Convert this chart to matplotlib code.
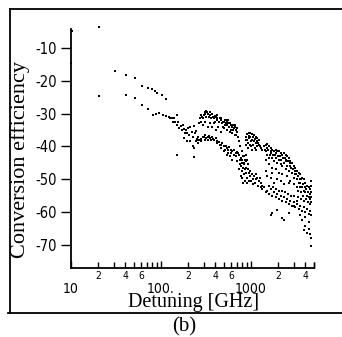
import matplotlib
matplotlib.use("Agg")
import matplotlib.pyplot as plt
from matplotlib import font_manager
from matplotlib.lines import Line2D
from matplotlib.ticker import FixedLocator, FixedFormatter
import numpy as np

# (detuning in GHz, conversion efficiency in dB)
stray_early = [(10.2, -5.0), (10.0, -14.7), (20.5, -3.6), (20.5, -24.8), (152, -42.5), (233, -43.3)]

early_upper = [(31, -17.0), (41, -18.3), (52, -19.3), (61, -21.6), (72, -22.3), (80, -22.6),
               (85, -23.0), (91, -23.6), (102, -24.3), (113, -25.6)]

early_lower = [(41, -24.4), (52, -25.3), (62, -27.3), (72, -28.6), (82, -30.4), (88, -30.0),
               (95, -29.9), (106, -30.4), (115, -30.6), (123, -30.9), (134, -31.4)]

mid_band = [(126, -31.5), (135, -32.5), (144, -32.7), (150, -33.5), (152, -30.4), (156, -32.7),
            (165, -33.9), (170, -35.0), (180, -34.7), (185, -36.0), (196, -35.9), (200, -34.5),
            (213, -34.2), (220, -35.5), (233, -33.9), (240, -36.0), (243, -35.4), (255, -37.0),
            (180, -37.5), (196, -38.5), (213, -38.5), (225, -40.0), (233, -40.5),
            (140, -31.5), (160, -34.5), (175, -33.5), (190, -35.0), (205, -36.5), (228, -37.0),
            (250, -38.0)]

hump_upper = [(264, -33.0), (270, -31.5), (276, -32.5), (288, -31.0), (300, -30.5), (310, -29.5),
              (319, -29.3), (327, -29.5), (335, -30.0), (347, -29.6), (355, -30.5), (372, -30.2),
              (380, -31.0), (388, -31.5), (395, -30.8), (405, -31.2), (415, -32.0), (423, -31.5),
              (440, -32.5), (460, -32.0), (475, -33.0), (490, -32.5), (501, -32.5), (515, -32.0),
              (523, -33.0), (540, -32.5), (546, -33.5), (560, -33.0), (575, -34.0), (594, -33.5),
              (610, -34.0), (625, -33.5), (647, -34.5), (660, -34.0), (676, -35.0), (705, -35.5),
              (720, -37.0), (738, -38.5), (760, -40.0), (790, -41.5),
              (290, -33.5), (310, -32.5), (330, -34.0), (350, -33.0), (370, -34.0), (390, -33.0),
              (410, -35.0), (430, -34.0), (460, -35.5), (500, -34.5), (540, -35.0), (580, -35.5),
              (620, -36.0), (660, -36.5),
              (282, -30.5), (295, -31.5), (305, -30.0), (315, -31.0), (340, -31.0), (362, -31.5),
              (398, -32.5), (418, -30.5), (450, -31.5), (470, -31.5), (485, -34.0), (510, -33.5),
              (530, -32.0), (555, -32.0), (585, -33.0), (600, -35.0), (635, -35.0), (670, -33.5),
              (690, -36.5), (700, -34.5)]

hump_lower = [(243, -38.5), (255, -39.0), (265, -38.0), (276, -37.8), (290, -37.2), (300, -37.0),
              (312, -36.5), (320, -37.5), (330, -37.0), (340, -36.8), (355, -37.5), (372, -37.0),
              (388, -38.0), (405, -37.5), (423, -38.5), (440, -38.8), (460, -39.5), (480, -39.0),
              (501, -40.0), (523, -39.8), (546, -40.5), (570, -40.2), (594, -41.0), (620, -41.5),
              (647, -41.2), (676, -42.0), (705, -41.8), (738, -42.5), (770, -43.5), (801, -44.0),
              (836, -43.0), (836, -45.0), (873, -44.5), (815, -42.8), (500, -41.5), (540, -42.5),
              (580, -43.0), (620, -44.0), (560, -42.0), (705, -44.5),
              (250, -37.8), (282, -38.5), (305, -38.0), (335, -38.0), (362, -38.2), (380, -37.8),
              (415, -39.0), (450, -39.5), (470, -40.5), (520, -41.0), (555, -41.0), (600, -42.0),
              (650, -42.5), (690, -43.0), (720, -42.0), (750, -44.0), (790, -45.0), (850, -44.0)]

cluster_1k_upper = [(873, -37.0), (910, -36.3), (950, -36.0), (990, -35.8), (1035, -36.2), (1080, -36.5),
                    (1127, -37.0), (1175, -37.5), (1227, -38.0), (873, -39.5), (910, -38.0), (950, -37.5),
                    (990, -37.2), (1035, -38.0), (1080, -38.5), (1127, -39.0), (1175, -40.0), (1227, -39.5),
                    (930, -39.0), (970, -39.5), (1010, -40.0), (1060, -39.5), (1100, -40.5), (1150, -41.0),
                    (1280, -40.5), (1336, -41.0), (873, -42.5), (900, -44.0), (920, -45.5), (873, -46.5),
                    (836, -45.5), (850, -47.0),
                    (890, -38.0), (960, -36.8), (1000, -38.5), (1050, -37.0), (1110, -37.8), (1160, -38.5),
                    (1200, -39.0), (1250, -39.8), (940, -40.5), (1020, -41.0)]

cluster_1k_lower = [(738, -47.0), (770, -46.0), (801, -47.5), (836, -48.5), (873, -48.0), (910, -49.5),
                    (950, -48.0), (990, -47.5), (1035, -48.5), (1080, -49.0), (1127, -50.0), (1175, -49.5),
                    (1227, -50.5), (1280, -51.0), (801, -49.5), (850, -50.5), (900, -51.0), (950, -50.5),
                    (1000, -50.5), (1060, -51.5), (1120, -51.0), (1200, -52.0), (1336, -52.0), (1394, -52.5),
                    (770, -49.0), (873, -46.5),
                    (760, -45.5), (820, -46.5), (860, -47.0), (930, -47.0), (980, -49.0), (1050, -50.0),
                    (1150, -48.5), (1250, -49.5), (1300, -52.5), (820, -51.0)]

tail_upper = [(1394, -40.0), (1455, -39.5), (1518, -39.3), (1585, -39.8), (1654, -40.5), (1726, -41.0),
              (1801, -41.5), (1879, -41.0), (1961, -41.3), (2046, -41.5), (2135, -42.0), (2228, -42.5),
              (1455, -41.5), (1518, -42.5), (1585, -43.5), (1654, -42.0), (1726, -43.5), (1801, -44.5),
              (1879, -43.5), (1961, -45.0), (2046, -44.0), (2135, -45.5), (2228, -46.0), (2325, -45.0),
              (1455, -44.0), (1585, -45.5), (1726, -46.5), (1879, -47.0), (2046, -48.0), (2228, -48.5),
              (2426, -47.0), (2325, -42.0), (2426, -42.5), (2532, -43.0), (2642, -43.5), (2757, -44.5),
              (2877, -45.0), (3002, -46.0), (3132, -46.5), (3268, -47.5), (3410, -48.0), (2426, -44.5),
              (2532, -46.0), (2642, -47.5), (2757, -46.0), (2877, -48.0), (3002, -49.5), (3132, -48.5),
              (3268, -50.0), (3410, -51.0), (2532, -49.0), (2757, -50.5), (3002, -51.5), (3268, -52.5),
              (2642, -51.0), (3559, -48.5), (3714, -49.5), (3875, -50.0), (4044, -51.0), (4220, -52.0),
              (4403, -52.5), (4594, -53.0), (3559, -51.0), (3714, -52.5), (3875, -53.5), (4044, -54.0),
              (4220, -55.0), (4403, -55.5), (4594, -56.0), (4720, -54.0), (4720, -52.0), (4650, -50.5),
              (4720, -57.0),
              (1420, -41.0), (1500, -40.5), (1560, -41.0), (1620, -42.5), (1690, -41.5), (1760, -42.5),
              (1840, -42.5), (1920, -42.0), (2000, -43.0), (2090, -43.0), (2180, -44.0), (2280, -43.5),
              (2380, -43.5), (2480, -44.0), (2580, -44.5), (2700, -45.0), (2820, -46.5), (2950, -47.0),
              (3080, -47.5), (3200, -48.5), (3350, -49.0), (3480, -50.0), (3620, -50.0), (3800, -51.5),
              (3960, -52.5), (4130, -53.0), (4300, -54.0), (4500, -54.5), (4650, -55.5), (3480, -52.5),
              (3650, -54.0), (3800, -55.0), (4130, -56.0), (4500, -57.5), (3350, -53.5)]

tail_lower = [(1336, -53.0), (1394, -52.5), (1455, -54.0), (1518, -53.5), (1585, -54.5), (1654, -53.0),
              (1726, -55.0), (1801, -54.0), (1879, -55.5), (1961, -54.5), (2046, -56.0), (2135, -55.0),
              (2228, -56.5), (2325, -55.5), (2426, -57.0), (2532, -56.0), (2642, -57.5), (2757, -56.5),
              (2877, -58.0), (3002, -57.0), (3132, -58.5), (3268, -57.5), (3410, -59.0), (3559, -58.0),
              (3714, -59.5), (3875, -58.5), (4044, -60.0), (4220, -59.0), (4403, -60.5), (4594, -59.5),
              (4720, -61.0), (1600, -52.0), (1750, -52.5), (1900, -53.0), (2050, -53.5), (2200, -53.5),
              (2400, -54.0), (2600, -54.5), (2800, -55.0), (3000, -55.0), (3300, -55.5), (3600, -56.0),
              (3900, -56.5), (4300, -57.0), (4600, -57.5)]

stray_late = [(1455, -47.5), (1518, -49.0), (1654, -49.5), (1726, -48.0), (1801, -51.0), (1961, -50.0),
              (2135, -50.5), (2325, -51.5), (1654, -60.8), (1726, -60.3), (1961, -59.2), (2228, -61.8),
              (2325, -62.5), (2642, -60.3), (3002, -58.2), (3268, -56.5), (3559, -60.8), (3714, -62.3),
              (3875, -65.3), (4044, -64.3), (4220, -66.3), (4403, -65.0), (4594, -66.8), (4720, -70.4),
              (4403, -63.0), (4044, -61.5), (4700, -68.0)]

major_ticks = [10, 100, 1000]
major_labels = ["10", "100.", "1000"]
minor_ticks = [m * d for d in (10, 100, 1000) for m in range(2, 10)] + [5000]
minor_labels = [str(m) if m in (2, 4, 6) else "" for d in (10, 100, 1000) for m in range(2, 10)] + [""]
y_ticks = [-10, -20, -30, -40, -50, -60, -70]

groups = [stray_early, early_upper, early_lower, mid_band, hump_upper, hump_lower,
          cluster_1k_upper, cluster_1k_lower, tail_upper, tail_lower, stray_late]

installed = {f.name for f in font_manager.fontManager.ttflist}
if "Liberation Sans Narrow" in installed:
    tick_font = "Liberation Sans Narrow"
else:
    tick_font = "DejaVu Sans"
label_font = ["Liberation Serif", "DejaVu Serif"]

fig = plt.figure(figsize=(3.42, 3.37), dpi=100)
ax = fig.add_axes([0.2076, 0.2047, 0.7098, 0.709])

for g in groups:
    pts = np.array(g, dtype=float)
    ax.plot(pts[:, 0], pts[:, 1], "s", ms=2.1, mew=0, color="black", clip_on=False)

ax.set_xscale("log")
ax.set_xlim(10, 5000)
ax.set_ylim(-77, -4.3)

for side in ("top", "right"):
    ax.spines[side].set_visible(False)
for side in ("left", "bottom"):
    ax.spines[side].set_linewidth(1.3)

ax.xaxis.set_major_locator(FixedLocator(major_ticks))
ax.xaxis.set_major_formatter(FixedFormatter(major_labels))
ax.xaxis.set_minor_locator(FixedLocator(minor_ticks))
ax.xaxis.set_minor_formatter(FixedFormatter(minor_labels))
ax.tick_params(axis="x", which="major", direction="in", length=5, width=1.0, pad=10, labelsize=10)
ax.tick_params(axis="x", which="minor", direction="in", length=4, width=1.0, pad=2, labelsize=7.5)

ax.set_yticks(y_ticks)
ax.set_yticklabels([str(v) for v in y_ticks])
ax.tick_params(axis="y", which="major", direction="out", length=7, width=1.0, pad=3, labelsize=10.5)
ax.tick_params(axis="y", which="minor", left=False)

for lab in ax.get_xticklabels(which="both") + ax.get_yticklabels():
    lab.set_family(tick_font)
    if tick_font == "DejaVu Sans":
        lab.set_fontstretch("condensed")

fig.text(20 / 342, 1 - 159 / 337, "Conversion efficiency", rotation=90, ha="center", va="center",
         family=label_font, fontsize=16)
fig.text(194 / 342, 1 - 303 / 337, "Detuning [GHz]", ha="center", va="center",
         family=label_font, fontsize=14.5)
fig.text(184 / 342, 1 - 327 / 337, "(b)", ha="center", va="center", family=label_font, fontsize=15)

# scanned frame around the panel
fx0, fx1 = 10 / 342, 1.0
fy0, fy1 = 1 - 313 / 337, 1 - 9 / 337
fig.add_artist(Line2D([fx0, fx0], [fy0, fy1], transform=fig.transFigure, color="black", lw=1.3))
fig.add_artist(Line2D([fx0, fx1], [fy1, fy1], transform=fig.transFigure, color="black", lw=1.3))
fig.add_artist(Line2D([fx0 - 0.005, fx1], [fy0, fy0], transform=fig.transFigure, color="black", lw=1.3))

fig.savefig("out.png", dpi=100)
